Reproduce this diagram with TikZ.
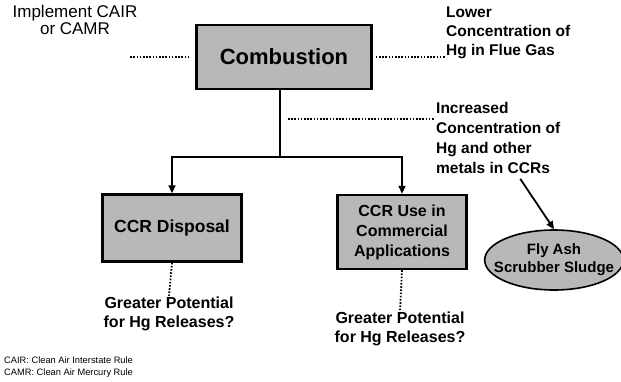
\documentclass[tikz,border=0pt]{standalone}
\usepackage{fontspec}
\setmainfont{Liberation Sans}
\usetikzlibrary{arrows.meta,shapes.geometric}
\begin{document}
\begin{tikzpicture}[x=1pt,y=-1pt,
  box/.style={draw,line width=2.4pt,fill=black!28,inner sep=2pt,font=\bfseries,align=center},
  lbl/.style={font=\bfseries,align=left,inner sep=1pt},
  dots/.style={line width=1.8pt,dash pattern=on 1.6pt off 1.6pt},
  arr/.style={line width=1.8pt,-{Triangle[length=8pt,width=7pt]}}]
\useasboundingbox (0,0) rectangle (621,381);
\node[box,minimum width=175pt,minimum height=64pt,font=\fontsize{22}{24}\bfseries] (comb) at (284,57) {Combustion};
\node[box,minimum width=139pt,minimum height=67pt,font=\fontsize{17.5}{20}\bfseries] (disp) at (172,228) {CCR Disposal};
\node[box,minimum width=129pt,minimum height=74pt,font=\fontsize{16}{20}\bfseries] (use) at (402,232) {CCR Use in\\Commercial\\Applications};
\node[ellipse,draw,line width=1.6pt,fill=black!28,minimum width=134pt,minimum height=60pt,inner xsep=-11pt,inner ysep=0pt,align=center,font=\fontsize{15}{18}\bfseries] (ash) at (554,260) {Fly Ash\\Scrubber Sludge};
\node[align=center,inner sep=1pt,font=\fontsize{17}{14}\selectfont] (impl) at (75,20) {Implement CAIR\\or CAMR};
\node[lbl,anchor=north west,font=\fontsize{15.5}{19}\bfseries] (lower) at (445,6) {Lower\\Concentration of\\Hg in Flue Gas};
\node[lbl,anchor=north west,font=\fontsize{15.5}{20}\bfseries] (incr) at (435,101) {Increased\\Concentration of\\Hg and other\\metals in CCRs};
\node[align=center,inner sep=1pt,font=\fontsize{16}{19}\bfseries] (g1) at (169,314) {Greater Potential\\for Hg Releases?};
\node[align=center,inner sep=1pt,font=\fontsize{16}{19}\bfseries] (g2) at (400,329) {Greater Potential\\for Hg Releases?};
\node[anchor=south west,align=left,inner sep=1pt,font=\fontsize{9.3}{12}\selectfont] (foot) at (3,379) {CAIR: Clean Air Interstate Rule\\CAMR: Clean Air Mercury Rule};
\coordinate (fork) at (280,157);
\coordinate (tap) at (288,119);
\draw[line width=1.8pt] (280,89) -- (fork);
\draw[arr] (fork) -| (disp.north);
\draw[arr] (fork) -| (use.north);
\draw[dots] ([xshift=-6pt]comb.west) -- ++(-60,0);
\draw[dots] ([xshift=3pt]comb.east) -- (lower.west |- comb.east);
\draw[dots] (tap) -- (incr.west |- tap);
\draw[arr] ([xshift=22pt,yshift=-4pt]incr.south) -- (ash.north);
\draw[dots] (disp.south) -- (g1.north);
\draw[dots] (use.south) -- (g2.north);
\end{tikzpicture}
\end{document}
